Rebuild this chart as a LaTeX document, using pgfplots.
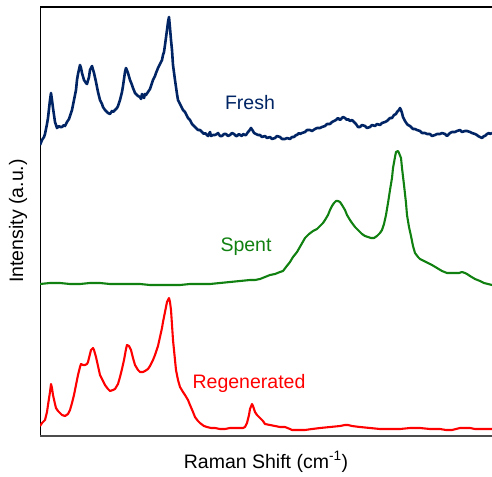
\documentclass[border=0pt]{standalone}
\usepackage{fontspec}
\setmainfont{Liberation Sans}
\usepackage{pgfplots}
\pgfplotsset{compat=1.18}

\definecolor{freshblue}{RGB}{0,36,100}
\definecolor{spentgreen}{RGB}{16,128,16}
\definecolor{regenred}{RGB}{255,0,0}

% x and y are read straight off the figure (y grows downwards)
\begin{document}
\begin{tikzpicture}
\begin{axis}[
    scale only axis,
    width=452pt, height=429pt,
    xmin=40, xmax=492,
    ymin=7, ymax=436,
    y dir=reverse,
    xtick=\empty, ytick=\empty,
    axis line style={draw=none},
    font=\fontsize{19.5}{23}\selectfont,
]
\draw[black, line width=1.6pt] (axis cs:492,7) -- (axis cs:40,7);
\draw[black, line width=1pt] (axis cs:40,7) -- (axis cs:40,436);
\draw[black!70, line width=1.5pt] (axis cs:40,436) -- (axis cs:492,436);

% Fresh
\addplot[freshblue, line width=2.6pt, line join=round] coordinates {
(40,145) (42,140) (44,137) (45,134) (47,124) (48,118) (50,100) (51,93) (52,100)
(53,108) (55,122) (57,128) (59,126) (60,127) (62,127) (64,125) (65,126) (67,122)
(69,119) (70,116) (72,110) (74,100) (76,90) (77,80) (78,74) (80,65) (81,68)
(82,73) (84,80) (86,83) (87,84) (89,77) (90,70) (92,66) (94,73) (96,82) (98,92)
(100,100) (102,104) (103,107) (105,110) (107,112) (108,113) (110,114) (112,111)
(113,112) (115,110) (117,108) (118,106) (120,100) (122,92) (123,86) (125,72)
(126,68) (128,73) (130,80) (132,85) (133,88) (135,93) (137,95) (138,96) (140,97)
(141,99) (142,94) (143,96) (144,98) (145,94) (146,95) (148,92) (150,89) (151,86)
(153,80) (155,76) (156,73) (158,68) (160,64) (162,60) (163,55) (164,52) (165,45)
(167,30) (168,22) (169,17) (170,28) (171,40) (172,50) (173,65) (175,80) (177,94)
(178,100) (180,104) (182,108) (183,110) (185,112) (186,114) (188,118) (190,120)
(192,124) (193,125) (195,127) (196,128) (198,130) (200,130) (202,132) (204,134)
(205,133) (207,135) (208,136) (209,134) (210,132) (211,136) (213,135) (215,135)
(217,134) (218,133) (220,136) (222,136) (224,134) (226,134) (228,136) (230,135)
(232,133) (234,134) (236,136) (237,136) (239,134) (240,135) (242,136) (243,134)
(245,135) (246,135) (248,132) (249,131) (251,128) (253,131) (254,133) (256,134)
(258,135) (260,135) (262,137) (265,136) (267,138) (270,137) (272,139) (275,138)
(277,136) (280,137) (282,139) (285,139) (287,138) (290,139) (292,137) (294,137)
(296,135) (297,135) (299,133) (300,134) (302,133) (305,132) (307,130) (310,130)
(312,131) (315,129) (317,128) (320,128) (322,127) (325,126) (327,124) (330,124)
(332,122) (334,121) (336,120) (338,118) (340,120) (341,119) (343,117) (345,118)
(347,120) (348,119) (350,121) (352,120) (354,122) (356,124) (358,127) (360,127)
(362,125) (365,126) (367,128) (370,127) (372,125) (375,126) (377,124) (380,125)
(382,123) (385,122) (387,121) (390,118) (392,118) (394,115) (396,114) (397,112)
(399,110) (400,108) (401,110) (402,113) (403,117) (405,121) (407,124) (408,125)
(410,126) (411,127) (413,129) (415,129) (417,130) (420,131) (422,133) (425,133)
(427,134) (430,134) (432,136) (435,135) (437,134) (440,134) (442,133) (445,134)
(447,136) (450,133) (452,132) (455,132) (457,131) (460,130) (462,132) (465,131)
(467,131) (470,132) (472,133) (475,134) (477,135) (478,136) (480,137) (482,138)
(484,136) (485,136) (487,134) (489,133) (490,134) (492,133)
};

% Spent
\addplot[spentgreen, line width=2.1pt, line join=round] coordinates {
(40,284) (50,283) (60,283) (70,284) (80,284) (90,283) (100,283) (110,284)
(120,284) (130,284) (140,284) (150,285) (160,285) (170,285) (180,285) (190,284)
(200,284) (210,284) (220,283) (230,282) (240,281) (250,280) (255,280) (260,279)
(265,277) (270,275) (275,274) (280,272) (283,271) (286,267) (290,262) (293,257)
(297,252) (301,245) (305,238) (309,234) (313,231) (317,229) (320,226) (323,223)
(325,220) (328,215) (330,210) (332,206) (334,203) (336,201) (338,201) (340,202)
(342,205) (345,210) (347,215) (350,220) (352,223) (355,227) (358,230) (362,234)
(365,236) (368,237) (371,238) (374,238) (377,236) (380,233) (382,230) (384,224)
(386,215) (388,203) (390,190) (392,178) (393,168) (395,157) (396,152) (398,151)
(399,153) (401,158) (402,168) (404,185) (406,203) (407,215) (409,227) (411,236)
(413,246) (415,253) (418,257) (420,259) (424,261) (428,263) (432,265) (437,268)
(442,271) (447,273) (451,273) (455,273) (459,273) (462,272) (465,273) (467,274)
(470,276) (475,279) (480,281) (484,283) (488,284) (492,285)
};

% Regenerated
\addplot[regenred, line width=2.1pt, line join=round] coordinates {
(40,426) (42,423) (45,420) (47,412) (48,405) (50,392) (51,384) (52,388) (53,395)
(55,404) (56,408) (58,411) (60,413) (62,415) (65,416) (68,414) (70,410) (72,403)
(74,395) (76,385) (78,375) (80,367) (81,364) (83,365) (85,365) (87,364) (88,362)
(90,354) (91,350) (93,348) (94,350) (96,357) (98,366) (100,375) (103,381) (105,385)
(108,389) (110,391) (113,390) (115,389) (118,384) (120,377) (122,369) (124,360)
(126,349) (127,345) (129,346) (131,350) (133,358) (135,365) (138,370) (140,372)
(143,372) (145,371) (148,369) (150,366) (153,360) (155,355) (158,346) (160,337)
(162,328) (163,322) (165,312) (167,302) (169,298) (170,302) (171,310) (172,325)
(173,340) (175,360) (176,370) (178,380) (180,387) (183,392) (185,395) (188,400)
(190,405) (193,412) (195,417) (198,421) (200,423) (204,426) (207,427) (211,428)
(215,428) (220,429) (225,429) (230,428) (235,428) (240,428) (243,428) (245,427)
(247,423) (249,415) (250,409) (252,404) (253,406) (255,412) (257,415) (260,418)
(263,421) (265,424) (270,425) (275,426) (280,427) (285,427) (290,429) (292,430)
(298,430) (305,430) (312,429) (320,428) (330,427) (340,426) (345,425) (348,425)
(352,426) (360,427) (370,428) (380,429) (390,429) (400,429) (410,428) (420,428)
(430,429) (440,429) (446,430) (452,430) (456,429) (460,428) (465,428) (470,428)
(475,429) (480,429) (486,429) (492,429)
};

\node[freshblue] at (axis cs:250,103) {Fresh};
\node[spentgreen] at (axis cs:246,247) {Spent};
\node[regenred] at (axis cs:249,383) {Regenerated};
\end{axis}
\node[font=\fontsize{19.5}{23}\selectfont] at (226pt,-26pt) {Raman Shift (cm\textsuperscript{-1})};
\node[font=\fontsize{19.5}{23}\selectfont, rotate=90] at (-22pt,215pt) {Intensity (a.u.)};
\pgfresetboundingbox
\path (-40pt,-40pt) rectangle (452pt,436pt);
\end{tikzpicture}
\end{document}
